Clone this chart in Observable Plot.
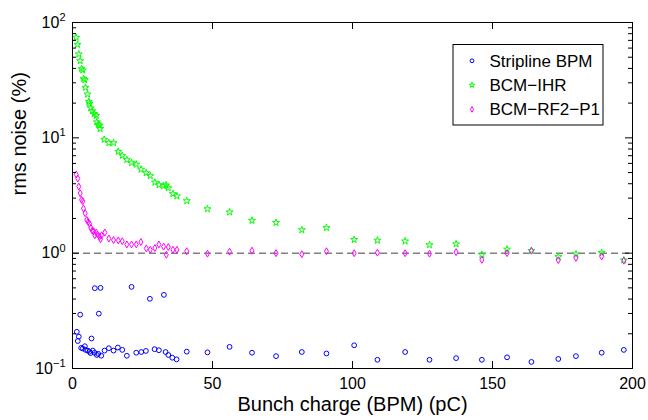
<!DOCTYPE html>
<html><head><meta charset="utf-8">
<script src="https://cdn.jsdelivr.net/npm/d3@7"></script>
<script src="https://cdn.jsdelivr.net/npm/@observablehq/plot@0.6"></script>
<style>
body{margin:0;background:#fff;font-family:"Liberation Sans",Arial,sans-serif;}
#wrap{position:relative;width:648px;height:420px;}
#legend{position:absolute;left:0;top:0;}
</style></head><body><div id="wrap"></div>
<script>
// ---------- data ----------
const seriesNames = ["Stripline BPM", "BCM−IHR", "BCM−RF2−P1"];
const seriesColors = ["#0000ff", "#00ff00", "#ff00ff"];
const xTicks = [0, 50, 100, 150, 200];
const yMajor = [0.1, 1, 10, 100];
const xLabel = "Bunch charge (BPM) (pC)";
const yLabel = "rms noise (%)";
const refLevel = 1;

// shared charges of the sparse tail
const chargeSparse = [40.8, 48.2, 56.1, 64.1, 72.7, 81.9, 90.7, 100.6, 108.9, 118.8, 127.5, 137.0, 146.2, 155.2, 163.9, 173.5, 179.8, 189.0, 196.9];
const stripSparse = [0.140, 0.138, 0.154, 0.137, 0.128, 0.139, 0.135, 0.159, 0.119, 0.139, 0.119, 0.123, 0.119, 0.125, 0.114, 0.121, 0.128, 0.137, 0.145];
const ihrSparse = [2.84, 2.42, 2.27, 1.92, 1.84, 1.59, 1.66, 1.31, 1.29, 1.27, 1.18, 1.20, 0.97, 1.08, 1.05, 0.93, 0.98, 1.01, 0.87];
const rfSparse = [1.04, 0.99, 1.03, 1.05, 1.00, 0.98, 1.04, 1.00, 1.01, 1.00, 0.99, 1.02, 0.875, 1.00, 1.05, 0.87, 0.91, 0.935, 0.86];

// dense low-charge region
const stripX = [1.54, 1.89, 2.25, 2.75, 3.11, 3.68, 4.40, 4.65, 5.47, 6.08, 6.44, 6.79, 7.26, 7.87, 7.97, 8.69, 9.19, 9.40, 10.01, 10.26, 11.44, 12.98, 14.66, 16.20, 17.77, 19.41, 21.09, 22.77, 24.56, 26.21, 27.64, 29.32, 30.85, 32.64, 33.25, 34.22, 35.65, 37.18];
const stripY = [0.208, 0.173, 0.189, 0.293, 0.151, 0.149, 0.156, 0.145, 0.143, 0.140, 0.136, 0.182, 0.143, 0.137, 0.497, 0.131, 0.134, 0.299, 0.500, 0.129, 0.143, 0.150, 0.143, 0.152, 0.145, 0.129, 0.510, 0.137, 0.139, 0.142, 0.402, 0.147, 0.144, 0.435, 0.139, 0.131, 0.124, 0.120];

const ihrX = [1.32, 1.79, 2.25, 2.75, 3.22, 3.68, 3.93, 4.40, 4.65, 5.36, 5.83, 6.08, 6.54, 7.04, 7.76, 8.47, 8.69, 9.19, 9.65, 9.90, 11.33, 12.98, 14.66, 16.34, 17.77, 19.41, 21.09, 22.77, 24.49, 26.31, 27.78, 29.42, 30.93, 32.53, 33.43, 34.22, 35.86, 37.29];
const ihrY = [74.1, 64.4, 53.2, 46.5, 39.7, 38.6, 32.5, 31.8, 27.3, 23.9, 20.6, 19.8, 18.1, 17.1, 16.1, 15.6, 13.7, 13.1, 12.8, 12.0, 9.67, 9.05, 9.05, 7.61, 7.02, 6.45, 6.07, 5.89, 5.33, 4.97, 4.68, 4.11, 3.91, 3.83, 3.89, 3.68, 3.27, 3.12];

const rfX = [1.32, 1.89, 2.25, 2.75, 3.22, 3.68, 3.93, 4.54, 5.11, 5.61, 6.08, 6.54, 7.04, 7.51, 7.97, 8.47, 8.94, 9.65, 10.01, 10.37, 11.55, 12.98, 14.66, 16.34, 17.77, 19.41, 21.09, 22.77, 24.42, 26.35, 27.78, 29.42, 30.85, 32.53, 33.50, 34.22, 35.86, 37.29];
const rfY = [4.81, 4.44, 3.78, 3.31, 2.90, 2.82, 2.44, 2.22, 1.94, 1.87, 1.80, 1.66, 1.57, 1.55, 1.43, 1.51, 1.45, 1.39, 1.32, 1.43, 1.51, 1.34, 1.30, 1.29, 1.27, 1.19, 1.19, 1.19, 1.25, 1.10, 1.07, 1.11, 1.19, 1.14, 0.97, 1.13, 1.07, 1.07];

// ---------- build tables ----------
const toRows = (xs, ys) => xs.map((x, i) => ({x, y: ys[i]}));
const strip = toRows(stripX.concat(chargeSparse), stripY.concat(stripSparse));
const ihr = toRows(ihrX.concat(chargeSparse), ihrY.concat(ihrSparse));
const rf = toRows(rfX.concat(chargeSparse), rfY.concat(rfSparse));

const W = 648, H = 420, mL = 72, mR = 16, mT = 22, mB = 52;
const iw = W - mL - mR, ih = H - mT - mB;
const yMinor = d3.range(-1, 2).flatMap(e => d3.range(2, 10).map(k => k * Math.pow(10, e)));
const font = "Liberation Sans, Arial, Helvetica, sans-serif";

const chart = Plot.plot({
  width: W, height: H,
  marginLeft: mL, marginRight: mR, marginTop: mT, marginBottom: mB,
  style: {fontFamily: font, fontSize: "16px", background: "white", color: "black", overflow: "visible"},
  x: {domain: [0, 200]},
  y: {type: "log", domain: [0.1, 100]},
  marks: [
    Plot.ruleY([refLevel], {stroke: "#808080", strokeWidth: 1.5, strokeDasharray: "7,4"}),
    Plot.dot(strip, {x: "x", y: "y", r: 2.4, symbol: "circle", stroke: seriesColors[0], fill: "none", strokeWidth: 1}),
    Plot.dot(ihr, {x: "x", y: "y", r: 2.2, symbol: "star", stroke: seriesColors[1], fill: "none", strokeWidth: 1}),
    Plot.dot(rf, {x: "x", y: "y", r: 2.1, symbol: "diamond", stroke: seriesColors[2], fill: "none", strokeWidth: 1}),
    Plot.frame({stroke: "black", strokeWidth: 1}),
    Plot.ruleY(yMajor, {insetRight: iw - 7, stroke: "black"}),
    Plot.ruleY(yMajor, {insetLeft: iw - 7, stroke: "black"}),
    Plot.ruleY(yMinor, {insetRight: iw - 4, stroke: "black"}),
    Plot.ruleY(yMinor, {insetLeft: iw - 4, stroke: "black"}),
    Plot.ruleX(xTicks, {insetTop: ih - 7, stroke: "black"}),
    Plot.ruleX(xTicks, {insetBottom: ih - 7, stroke: "black"}),
    Plot.axisX({ticks: xTicks, tickSize: 0, tickPadding: 9, label: null, fontSize: 16}),
    Plot.axisY({ticks: yMajor, tickSize: 0, tickPadding: 7, label: null, fontSize: 16,
      tickFormat: d => "10^" + Math.round(Math.log10(d))}),
    Plot.text([xLabel], {frameAnchor: "bottom", dy: 42, fontSize: 20, fill: "black"}),
    Plot.text([yLabel], {frameAnchor: "left", dx: -53, rotate: -90, fontSize: 20, fill: "black"})
  ]
});

// superscript exponents on the log axis labels
d3.select(chart).selectAll('g[aria-label="y-axis tick label"] text').each(function () {
  const t = this.textContent;
  if (!t.includes("^")) return;
  const [b, e] = t.split("^");
  const s = d3.select(this);
  s.text(null);
  s.append("tspan").text(b);
  s.append("tspan").attr("dy", "-0.6em").attr("font-size", "11px").text(e.replace("-", "−"));
});

const wrap = document.getElementById("wrap");
wrap.appendChild(chart);

// legend box inside the axes
const lg = d3.select(wrap).append("svg").attr("id", "legend")
  .attr("width", W).attr("height", H)
  .style("position", "absolute").style("left", "0px").style("top", "0px");
const lx = 453, ly = 44.5, lw = 150, lh = 80.5;
lg.append("rect").attr("x", lx).attr("y", ly).attr("width", lw).attr("height", lh)
  .attr("fill", "white").attr("stroke", "black").attr("stroke-width", 1);
const symbols = [d3.symbolCircle, d3.symbolStar, d3.symbolDiamond];
const symSizes = [Math.PI * 1.9 * 1.9, Math.PI * 1.7 * 1.7, Math.PI * 1.7 * 1.7];
seriesNames.forEach((name, i) => {
  const cy = ly + 16.3 + i * 24.3;
  lg.append("path").attr("d", d3.symbol(symbols[i], symSizes[i])())
    .attr("transform", `translate(${lx + 19},${cy})`)
    .attr("fill", "none").attr("stroke", seriesColors[i]).attr("stroke-width", 1);
  lg.append("text").attr("x", lx + 36.5).attr("y", cy).attr("dy", "0.35em")
    .attr("font-family", font).attr("font-size", 17).attr("fill", "black").text(name);
});
</script></body></html>
